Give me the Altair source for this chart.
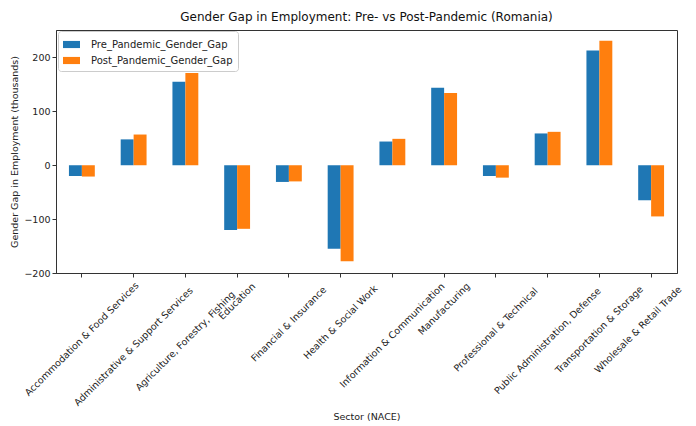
import altair as alt
import pandas as pd

sectors = [
    "Accommodation & Food Services",
    "Administrative & Support Services",
    "Agriculture, Forestry, Fishing",
    "Education",
    "Financial & Insurance",
    "Health & Social Work",
    "Information & Communication",
    "Manufacturing",
    "Professional & Technical",
    "Public Administration, Defense",
    "Transportation & Storage",
    "Wholesale & Retail Trade",
]
pre_gap = [-20, 48, 155, -120, -31, -155, 44, 144, -20, 59, 213, -65]
post_gap = [-21, 57, 171, -118, -30, -178, 49, 134, -23, 62, 231, -95]
series = ["Pre_Pandemic_Gender_Gap", "Post_Pandemic_Gender_Gap"]
colors = ["#1f77b4", "#ff7f0e"]

rows = []
for s, a, b in zip(sectors, pre_gap, post_gap):
    rows.append({"Sector": s, "Series": series[0], "Gap": a})
    rows.append({"Sector": s, "Series": series[1], "Gap": b})
df = pd.DataFrame(rows)
labels_df = pd.DataFrame({"Sector": sectors})

FONT = "DejaVu Sans"
W, H = 621, 243

# distance (px) from axis line down to centre of each rotated label
d = "(8 + (length(datum.Sector) * 5.33 + 10) * 0.3536)"
# nudge the last label left so it is not clipped at the page edge
shift = f"(datum.Sector == '{sectors[-1]}' ? 9.2 : 0)"

x_axis = alt.Axis(title="Sector (NACE)", labels=False, titleFontSize=9.5,
                  titleFontWeight="normal", titleColor="#222",
                  tickColor="#333", domainColor="#333", tickSize=4,
                  titleY=143, titleBaseline="middle")
x_scale = alt.Scale(paddingInner=0.5, paddingOuter=0.25)

bars = alt.Chart(df).mark_bar().encode(
    x=alt.X("Sector:N", sort=sectors, scale=x_scale, axis=x_axis),
    xOffset=alt.XOffset("Series:N", sort=series),
    y=alt.Y("Gap:Q", scale=alt.Scale(domain=[-200, 251], nice=False, zero=False),
            axis=alt.Axis(title="Gender Gap in Employment (thousands)", values=[-200, -100, 0, 100, 200],
                          grid=False, labelFontSize=9.5, titleFontSize=9.5, titleFontWeight="normal",
                          labelColor="#222", titleColor="#222", tickColor="#333", tickSize=4,
                          domainColor="#333", titlePadding=4)),
    color=alt.Color("Series:N", scale=alt.Scale(domain=series, range=colors),
                    legend=alt.Legend(title=None, orient="none", legendX=2, legendY=1,
                                      symbolType="M-1,-0.42L1,-0.42L1,0.42L-1,0.42Z",
                                      symbolSize=289, symbolStrokeWidth=0,
                                      labelFontSize=10, labelColor="#222", labelOffset=11,
                                      strokeColor="#ccc", cornerRadius=3, padding=5,
                                      fillColor="white", rowPadding=2)),
)

xlabels = alt.Chart(labels_df).mark_text(
    angle=315, align="center", baseline="middle", fontSize=9.5, color="#222", font=FONT,
    dx=alt.ExprRef(expr=f"-{d} * 0.7071 - {shift}"),
    dy=alt.ExprRef(expr=f"{d} * 0.7071 - {shift}"),
).encode(
    x=alt.X("Sector:N", sort=sectors, scale=x_scale, axis=x_axis),
    y=alt.value(H),
    text="Sector:N",
)

chart = alt.layer(bars, xlabels).properties(
    width=W, height=H,
    title=alt.Title("Gender Gap in Employment: Pre- vs Post-Pandemic (Romania)",
                    fontSize=12, fontWeight="normal", font=FONT, color="#111", offset=6),
    autosize=alt.AutoSizeParams(type="none"),
    padding={"left": 48, "top": 22, "right": 11, "bottom": 150},
).configure(font=FONT).configure_view(stroke="#333", strokeWidth=1)

chart.save("out.html", embed_options={"renderer": "svg", "actions": False})
